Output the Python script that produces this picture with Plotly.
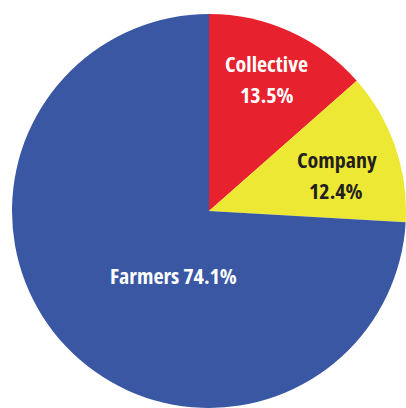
import plotly.graph_objects as go

labels = ["Collective", "Company", "Farmers"]
values = [13.5, 12.4, 74.1]
colors = ["#E8212E", "#EDE833", "#3A57A3"]
text_colors = ["#FFFFFF", "#231F20", "#FFFFFF"]

W, H = 406, 408
FONT = "Open Sans, sans-serif"

fig = go.Figure(go.Pie(
    labels=labels,
    values=values,
    marker=dict(colors=colors, line=dict(width=0)),
    sort=False,
    direction="clockwise",
    rotation=0,
    textinfo="none",
    hoverinfo="label+percent",
    showlegend=False,
    domain=dict(x=[0.0295, 1.0], y=[0.0, 0.9657]),
))

# label positions in pixels (x, y from top), one entry per text line
label_lines = [
    (f"{labels[0]}", 266, 63, text_colors[0]),
    (f"{values[0]}%", 267, 94, text_colors[0]),
    (f"{labels[1]}", 337, 159, text_colors[1]),
    (f"{values[1]}%", 336, 190, text_colors[1]),
    (f"{labels[2]} {values[2]}%", 173, 275, text_colors[2]),
]

annotations = []
for txt, px, py, col in label_lines:
    annotations.append(dict(
        text=f"<b><span style='font-stretch:condensed'>{txt}</span></b>",
        x=px / W, y=1 - py / H,
        xref="paper", yref="paper", xanchor="center", yanchor="middle",
        showarrow=False, font=dict(family=FONT, size=22, color=col),
    ))

fig.update_layout(
    width=W, height=H,
    margin=dict(l=0, r=0, t=0, b=0),
    paper_bgcolor="white",
    plot_bgcolor="white",
    annotations=annotations,
)

fig.write_html("out.html")
